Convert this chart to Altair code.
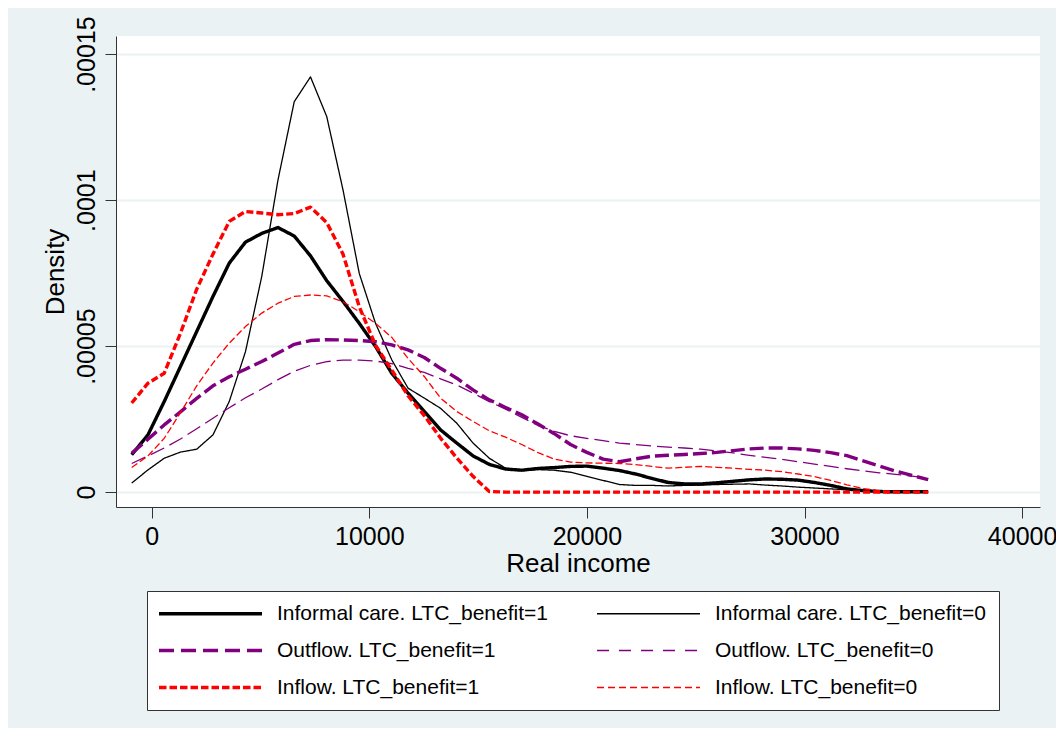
import altair as alt
import pandas as pd

# Kernel density estimation grid (real income)
income = [-920, -173, 574, 1321, 2068, 2815, 3562, 4309, 5056, 5803,
          6550, 7297, 8044, 8791, 9538, 10285, 11032, 11779, 12526, 13273,
          14020, 14767, 15514, 16261, 17008, 17755, 18502, 19249, 19996, 20743,
          21490, 22237, 22984, 23731, 24478, 25225, 25972, 26719, 27466, 28213,
          28960, 29707, 30454, 31201, 31948, 32695, 33442, 34189, 34936, 35683]

# Density values, in units of 1e-5
informal_1 = [1.28, 1.96, 3.10, 4.30, 5.50, 6.70, 7.84, 8.56, 8.86, 9.06,
              8.77, 8.09, 7.24, 6.53, 5.78, 4.99, 4.07, 3.39, 2.76, 2.13,
              1.68, 1.24, 0.95, 0.79, 0.75, 0.81, 0.84, 0.88, 0.89, 0.82,
              0.74, 0.62, 0.47, 0.33, 0.28, 0.28, 0.32, 0.37, 0.42, 0.45,
              0.44, 0.41, 0.33, 0.23, 0.11, 0.05, 0.02, 0.01, 0.01, 0.01]
informal_0 = [0.31, 0.76, 1.16, 1.37, 1.47, 1.96, 3.10, 4.81, 7.38, 10.69,
              13.37, 14.22, 12.86, 10.35, 7.49, 5.78, 4.53, 3.56, 3.22, 2.87,
              2.36, 1.68, 1.16, 0.82, 0.75, 0.77, 0.75, 0.68, 0.54, 0.40,
              0.26, 0.23, 0.23, 0.21, 0.23, 0.24, 0.26, 0.27, 0.28, 0.24,
              0.21, 0.17, 0.14, 0.11, 0.08, 0.05, 0.02, 0.01, 0.01, 0.01]
outflow_1 = [1.33, 1.81, 2.30, 2.75, 3.21, 3.64, 3.95, 4.21, 4.47, 4.76,
             5.06, 5.19, 5.22, 5.21, 5.19, 5.15, 5.04, 4.87, 4.61, 4.24,
             3.90, 3.50, 3.16, 2.90, 2.65, 2.33, 2.00, 1.63, 1.36, 1.13,
             1.04, 1.14, 1.23, 1.26, 1.29, 1.32, 1.36, 1.42, 1.48, 1.51,
             1.51, 1.48, 1.43, 1.35, 1.25, 1.07, 0.89, 0.72, 0.57, 0.43]
outflow_0 = [0.98, 1.24, 1.51, 1.82, 2.17, 2.53, 2.89, 3.23, 3.53, 3.85,
             4.14, 4.34, 4.47, 4.52, 4.52, 4.49, 4.40, 4.24, 4.10, 3.88,
             3.67, 3.39, 3.10, 2.84, 2.56, 2.28, 2.08, 1.93, 1.84, 1.76,
             1.68, 1.63, 1.58, 1.54, 1.51, 1.47, 1.41, 1.34, 1.26, 1.19,
             1.12, 1.04, 0.96, 0.88, 0.80, 0.73, 0.66, 0.61, 0.55, 0.48]
inflow_1 = [3.05, 3.73, 4.07, 5.44, 6.95, 8.15, 9.27, 9.61, 9.56, 9.50,
            9.54, 9.76, 9.23, 8.15, 6.35, 5.03, 4.18, 3.30, 2.62, 1.85,
            1.17, 0.54, 0.02, 0.0, 0.0, 0.0, 0.0, 0.0, 0.0, 0.0,
            0.0, 0.0, 0.0, 0.0, 0.0, 0.0, 0.0, 0.0, 0.0, 0.0,
            0.0, 0.0, 0.0, 0.0, 0.0, 0.0, 0.0, 0.0, 0.0, 0.0]
inflow_0 = [0.84, 1.24, 1.84, 2.72, 3.64, 4.42, 5.10, 5.67, 6.13, 6.47,
            6.70, 6.75, 6.72, 6.52, 6.18, 5.78, 5.30, 4.58, 3.96, 3.22,
            2.76, 2.42, 2.10, 1.88, 1.63, 1.35, 1.13, 1.03, 1.00, 0.99,
            0.98, 0.94, 0.88, 0.82, 0.85, 0.88, 0.85, 0.82, 0.78, 0.75,
            0.70, 0.62, 0.53, 0.40, 0.25, 0.12, 0.05, 0.02, 0.01, 0.01]

series_names = [
    "Informal care. LTC_benefit=1",
    "Informal care. LTC_benefit=0",
    "Outflow. LTC_benefit=1",
    "Outflow. LTC_benefit=0",
    "Inflow. LTC_benefit=1",
    "Inflow. LTC_benefit=0",
]
series_values = [informal_1, informal_0, outflow_1, outflow_0, inflow_1, inflow_0]

x_ticks = [0, 10000, 20000, 30000, 40000]
y_ticks = [0, 0.00005, 0.0001, 0.00015]

# Styles
line_colors = ["#000000", "#000000", "#800080", "#800080", "#FF0000", "#FF0000"]
line_dashes = [[1, 0], [1, 0], [14, 5], [15, 6], [7, 3], [7, 3]]
# legend key styles: (half thickness px, dash px, gap px)
key_styles = [(1.7, 103, 0), (0.65, 103, 0), (1.8, 15, 7), (0.65, 12, 10), (1.8, 7.5, 3), (0.75, 7, 4)]
KEY_LEN = 103.0   # key line length in px
UNIT = 10.5       # px per symbol unit (symbolSize = (2*UNIT)^2)


def key_path(half, dash, gap):
    u = 1.0 / UNIT
    h = half * u
    parts = []
    pos = 0.0
    while pos < KEY_LEN - 0.5:
        end = min(pos + dash, KEY_LEN)
        x0 = (pos - KEY_LEN / 2) * u
        x1 = (end - KEY_LEN / 2) * u
        parts.append(f"M{x0:.4f},{-h:.4f}H{x1:.4f}V{h:.4f}H{x0:.4f}Z")
        pos = end + gap
        if gap == 0:
            break
    return "".join(parts)


key_shapes = [key_path(*s) for s in key_styles]

rows = []
for order, (name, vals) in enumerate(zip(series_names, series_values)):
    for xv, yv in zip(income, vals):
        rows.append({"series": name, "order": order, "income": xv, "density": yv * 1e-5})
df = pd.DataFrame(rows)

FONT = "Liberation Sans, Arial, sans-serif"
BG = "#EAF2F3"

legend = alt.Legend(
    title=None,
    orient="none",
    direction="horizontal",
    legendX=31,
    legendY=555,
    columns=2,
    symbolSize=(2 * UNIT) ** 2,
    symbolStrokeWidth=0,
    symbolOffset=KEY_LEN / 2 - UNIT,
    labelOffset=56,
    labelFontSize=21,
    labelFont=FONT,
    labelColor="#000000",
    labelLimit=500,
    columnPadding=47,
    rowPadding=15,
    padding=12,
    strokeColor="#333333",
    fillColor="#FFFFFF",
)

x_enc = alt.X(
    "income:Q",
    scale=alt.Scale(domain=[-1641, 40822], nice=False, zero=False),
    axis=alt.Axis(
        values=x_ticks,
        format="d",
        title="Real income",
        grid=False,
        tickSize=11,
        tickColor="#333333",
        domainColor="#333333",
        labelFontSize=25,
        labelFont=FONT,
        labelColor="#000000",
        labelPadding=6,
        labelFlush=False,
        titleFontSize=26,
        titleFont=FONT,
        titleFontWeight="normal",
        titleColor="#000000",
        titleY=43,
        titleBaseline="top",
    ),
)
y_enc = alt.Y(
    "density:Q",
    scale=alt.Scale(domain=[-0.0000051, 0.0001562], nice=False, zero=False),
    axis=alt.Axis(
        values=y_ticks,
        labelExpr="datum.value == 0 ? '0' : substring(format(datum.value, '.5~f'), 1)",
        title="Density",
        grid=True,
        gridColor=BG,
        gridWidth=2,
        tickSize=11,
        tickColor="#333333",
        domainColor="#333333",
        labelFontSize=25,
        labelFont=FONT,
        labelColor="#000000",
        labelAngle=270,
        labelAlign="center",
        labelBaseline="middle",
        labelPadding=19,
        labelFlush=False,
        titleFontSize=26,
        titleFont=FONT,
        titleFontWeight="normal",
        titleColor="#000000",
        titleAngle=270,
        titleX=-61,
        titleY=235.5,
        titleAlign="center",
        titleBaseline="middle",
    ),
)
color_enc = alt.Color(
    "series:N",
    scale=alt.Scale(domain=series_names, range=line_colors),
    legend=legend,
)

base = alt.Chart(df)

keys = (
    base.transform_filter("false")
    .mark_point(filled=True, opacity=1, strokeWidth=0)
    .encode(
        x=x_enc,
        y=y_enc,
        color=color_enc,
        shape=alt.Shape(
            "series:N",
            scale=alt.Scale(domain=series_names, range=key_shapes),
            legend=legend,
        ),
    )
)

lines = (
    base.transform_calculate(w="indexof(datum.series, '=1') >= 0 ? 3.4 : 1.3")
    .mark_line(strokeJoin="round")
    .encode(
        x=x_enc,
        y=y_enc,
        color=color_enc,
        strokeDash=alt.StrokeDash(
            "series:N",
            scale=alt.Scale(domain=series_names, range=line_dashes),
            legend=None,
        ),
        strokeWidth=alt.StrokeWidth("w:Q", scale=None, legend=None),
        order=alt.Order("order:Q"),
    )
)

chart = (
    alt.layer(keys, lines)
    .properties(
        width=924,
        height=471,
        padding={"left": 108, "top": 28, "right": 16, "bottom": 221},
        autosize=alt.AutoSizeParams(type="none"),
        background=BG,
    )
    .configure_view(fill="#FFFFFF", stroke=None)
)

chart.save("out.html", embed_options={"renderer": "svg", "actions": False})
